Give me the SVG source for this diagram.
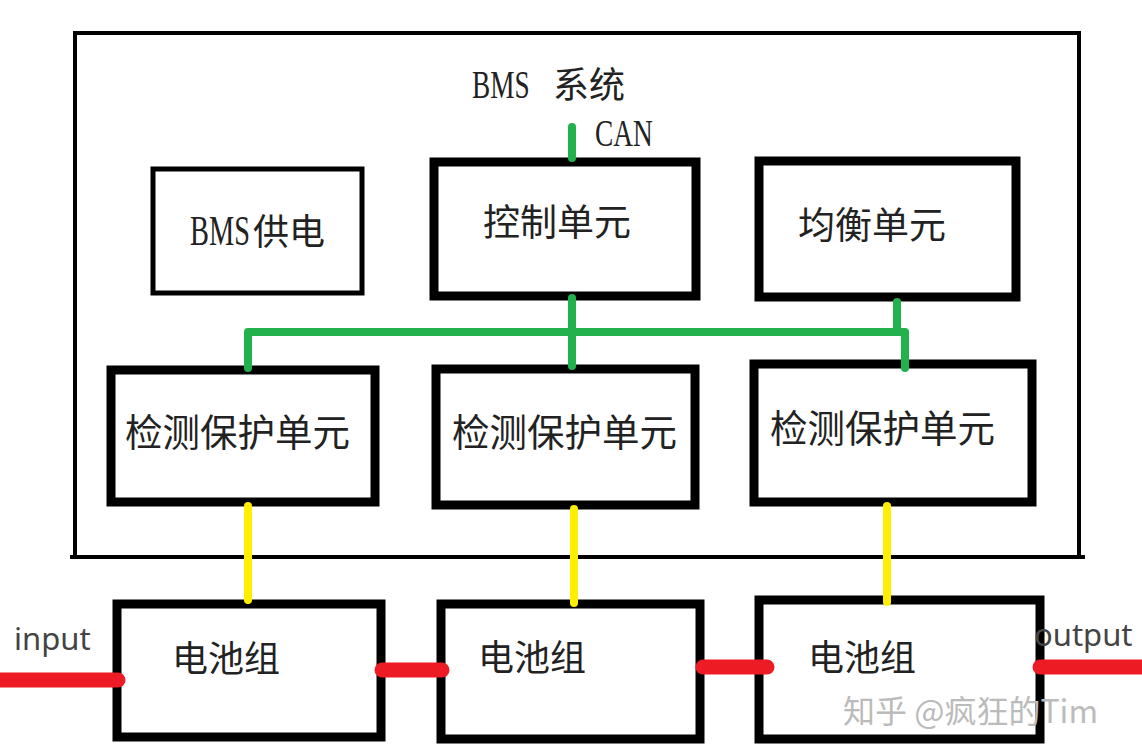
<svg xmlns="http://www.w3.org/2000/svg" width="1142" height="756" viewBox="0 0 1142 756">
<style>
.box{fill:#fff;stroke:#000;stroke-width:9}
.thin{fill:#fff;stroke:#000;stroke-width:5}
.cn{font-family:"Noto Sans CJK SC","Noto Sans",sans-serif;fill:#222}
.serif{font-family:"Liberation Serif","Noto Sans CJK SC",serif;fill:#222}
.lbl{font-family:"Noto Sans","Liberation Sans",sans-serif;font-size:31px;fill:#444}
.g{stroke:#22b14c;stroke-width:8;fill:none;stroke-linecap:round;stroke-linejoin:round}
.y{stroke:#ffee00;stroke-width:8;fill:none;stroke-linecap:round}
.r{stroke:#ed1c24;stroke-width:15;fill:none;stroke-linecap:round}
</style>
<rect width="1142" height="756" fill="#fff"/>
<g id="bms-system">
<rect x="75" y="33" width="1004" height="524" fill="none" stroke="#000" stroke-width="4"/>
<line x1="70" y1="557" x2="1085" y2="557" stroke="#000" stroke-width="4"/>
<text transform="translate(472,98) scale(0.7,1)" class="serif" font-size="39">BMS</text>
<text x="553" y="98" class="cn" font-size="36">系统</text>
<text transform="translate(595,146) scale(0.72,1)" class="serif" font-size="38">CAN</text>
</g>
<g id="bms-power">
<rect x="153" y="169" width="209" height="124" class="thin"/>
<text transform="translate(190,245) scale(0.66,1)" class="serif" font-size="43">BMS</text>
<text x="253" y="245" class="cn" font-size="36">供电</text>
</g>
<g id="control-unit">
<rect x="434" y="162" width="262" height="134" class="box"/>
<text x="483" y="236" class="cn" font-size="37">控制单元</text>
</g>
<g id="balance-unit">
<rect x="759" y="161" width="257" height="136" class="box"/>
<text x="798" y="239" class="cn" font-size="37">均衡单元</text>
</g>
<g id="detect1">
<rect x="111" y="370" width="264" height="132" class="box"/>
<text x="125" y="446" class="cn" font-size="37.5">检测保护单元</text>
</g>
<g id="detect2">
<rect x="436" y="369" width="259" height="136" class="box"/>
<text x="452" y="446" class="cn" font-size="37.5">检测保护单元</text>
</g>
<g id="detect3">
<rect x="754" y="364" width="278" height="138" class="box"/>
<text x="770" y="442" class="cn" font-size="37.5">检测保护单元</text>
</g>
<g id="battery1">
<rect x="117" y="604" width="264" height="133" class="box"/>
<text x="172" y="672" class="cn" font-size="36">电池组</text>
</g>
<g id="battery2">
<rect x="441" y="604" width="259" height="135" class="box"/>
<text x="478" y="671" class="cn" font-size="36">电池组</text>
</g>
<g id="battery3">
<rect x="759" y="600" width="281" height="139" class="box"/>
<text x="808" y="671" class="cn" font-size="36">电池组</text>
</g>
<g id="connectors">
<line x1="572" y1="127" x2="572" y2="158" class="g"/>
<polyline points="248,368 248,332 905,332 905,368" class="g"/>
<line x1="572" y1="298" x2="572" y2="366" class="g"/>
<line x1="897" y1="302" x2="897" y2="332" class="g"/>
<line x1="248" y1="506" x2="248" y2="600" class="y"/>
<line x1="574" y1="509" x2="574" y2="603" class="y"/>
<line x1="887" y1="506" x2="887" y2="602" class="y"/>
<line x1="0" y1="680" x2="118" y2="680" class="r"/>
<line x1="382" y1="670" x2="442" y2="670" class="r"/>
<line x1="703" y1="667" x2="767" y2="667" class="r"/>
<line x1="1040" y1="667" x2="1142" y2="667" class="r"/>
</g>
<text x="14" y="650" class="lbl">input</text>
<text x="1034" y="646" class="lbl">output</text>
<text x="843" y="723" font-family="Noto Sans CJK SC,sans-serif" font-size="32" fill="#bbb">知乎 @疯狂的Tim</text>
</svg>
